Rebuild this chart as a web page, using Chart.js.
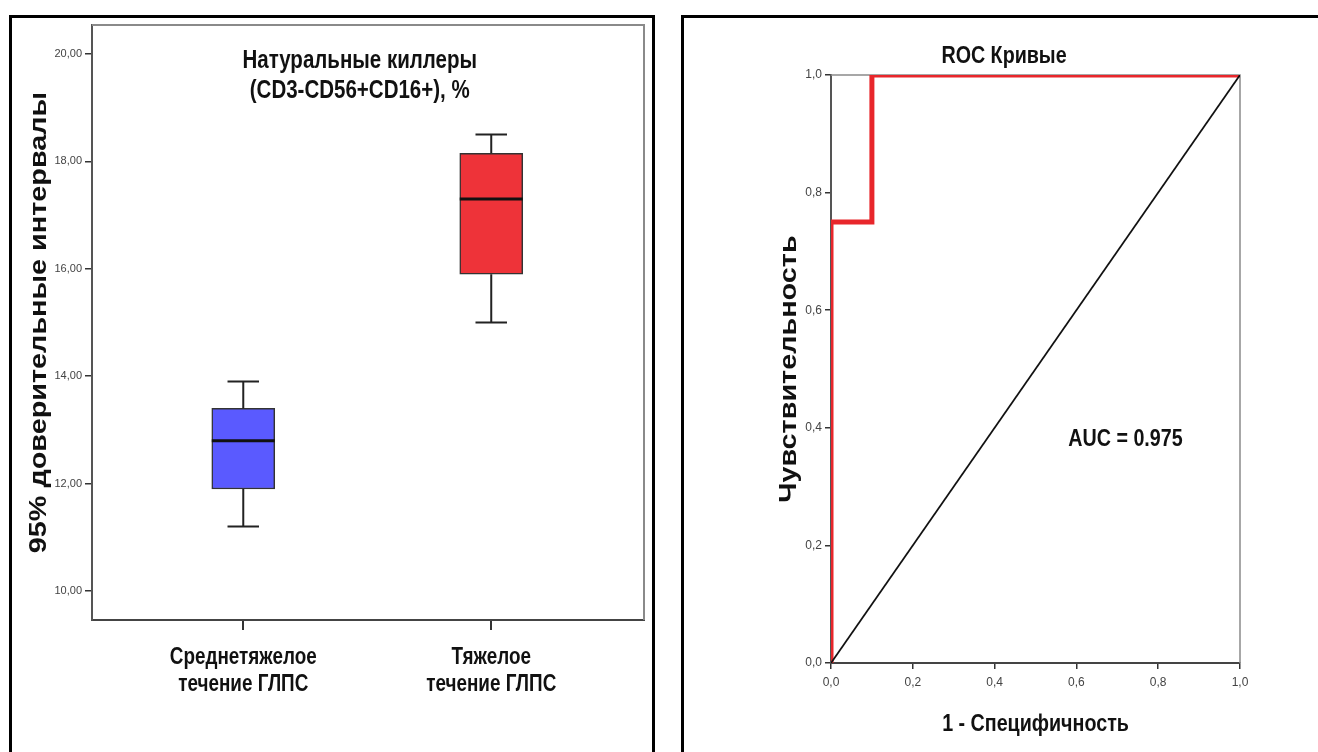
<!DOCTYPE html>
<html><head><meta charset="utf-8">
<script src="https://cdn.jsdelivr.net/npm/chart.js@4"></script>
<style>
html,body{margin:0;padding:0;background:#fff;width:1318px;height:752px;overflow:hidden;}
.frame{position:absolute;border:3px solid #000;box-sizing:border-box;}
#f1{left:9px;top:15px;width:646px;height:760px;}
#f2{left:681px;top:15px;width:660px;height:760px;}
.wrap{position:absolute;top:0;height:752px;}
#w1{left:0;width:660px;}
#w2{left:660px;width:658px;}
</style></head>
<body>
<div class="frame" id="f1"></div>
<div class="frame" id="f2"></div>
<div class="wrap" id="w1"><canvas id="c1"></canvas></div>
<div class="wrap" id="w2"><canvas id="c2"></canvas></div>
<script>
// ---- Box plot data ----
const groups = [1, 2];
const groupLabels = [["Среднетяжелое", "течение ГЛПС"], ["Тяжелое", "течение ГЛПС"]];
const whiskerLow = [11.2, 15.0];
const q1 = [11.9, 15.9];
const median = [12.8, 17.3];
const q3 = [13.4, 18.15];
const whiskerHigh = [13.9, 18.5];
const boxColors = ['#5a5aff', '#ee3339'];
const boxTicks = [10, 12, 14, 16, 18, 20];
const boxTitle = ["Натуральные киллеры", "(CD3-CD56+CD16+), %"];
const boxYTitle = "95% доверительные интервалы";

// ---- ROC data ----
const rocFpr = [0, 0, 0.1, 0.1, 1];
const rocTpr = [0, 0.75, 0.75, 1, 1];
const refFpr = [0, 1];
const refTpr = [0, 1];
const rocTicks = [0, 0.2, 0.4, 0.6, 0.8, 1];
const rocTitle = "ROC Кривые";
const rocXTitle = "1 - Специфичность";
const rocYTitle = "Чувствительность";
const aucText = "AUC = 0.975";
const aucAt = [0.72, 0.38];

const SANS = "'Liberation Sans', Arial, sans-serif";
Chart.defaults.font.family = SANS;
const SQUEEZE = 0.82;   // horizontal text squeeze (stretched-look of the source)
const STRETCH = 1.2;    // lengthening of rotated text

function label(ctx, text, x, y, size, rotated) {
  ctx.save();
  ctx.translate(x, y);
  if (rotated) { ctx.rotate(-Math.PI / 2); ctx.scale(STRETCH, 1); }
  else { ctx.scale(SQUEEZE, 1); }
  ctx.font = "bold " + size + "px " + SANS;
  ctx.fillStyle = '#111';
  ctx.textAlign = 'center';
  ctx.textBaseline = 'middle';
  ctx.fillText(text, 0, 0);
  ctx.restore();
}

const BAR_W = 63;

const boxPlugin = {
  id: 'boxExtras',
  beforeDatasetsDraw(chart) {
    const {ctx, chartArea: a} = chart;
    ctx.save();
    ctx.strokeStyle = '#8a8a8a';
    ctx.lineWidth = 2;
    ctx.beginPath();
    ctx.moveTo(a.left, a.top); ctx.lineTo(a.right, a.top); ctx.lineTo(a.right, a.bottom);
    ctx.stroke();
    ctx.restore();
  },
  afterDatasetsDraw(chart) {
    const {ctx, scales: {x, y}} = chart;
    ctx.save();
    ctx.strokeStyle = '#222';
    ctx.lineWidth = 2;
    const cap = BAR_W / 4;
    groups.forEach((g, i) => {
      const cx = x.getPixelForValue(g);
      const yl = y.getPixelForValue(whiskerLow[i]);
      const yh = y.getPixelForValue(whiskerHigh[i]);
      const y1 = y.getPixelForValue(q1[i]);
      const y3 = y.getPixelForValue(q3[i]);
      ctx.beginPath();
      ctx.moveTo(cx, y3); ctx.lineTo(cx, yh);
      ctx.moveTo(cx - cap, yh); ctx.lineTo(cx + cap, yh);
      ctx.moveTo(cx, y1); ctx.lineTo(cx, yl);
      ctx.moveTo(cx - cap, yl); ctx.lineTo(cx + cap, yl);
      ctx.stroke();
      const ym = y.getPixelForValue(median[i]);
      ctx.save();
      ctx.lineWidth = 3;
      ctx.strokeStyle = '#111';
      ctx.beginPath();
      ctx.moveTo(cx - BAR_W / 2, ym); ctx.lineTo(cx + BAR_W / 2, ym);
      ctx.stroke();
      ctx.restore();
    });
    ctx.restore();
  },
  afterDraw(chart) {
    const {ctx, chartArea: a, scales: {x}} = chart;
    const cx = a.left + a.width * 0.485;
    boxTitle.forEach((t, i) => label(ctx, t, cx, a.top + 36 + i * 30, 25, false));
    groups.forEach((g, i) => {
      groupLabels[i].forEach((t, j) => label(ctx, t, x.getPixelForValue(g), x.top + 38 + j * 27, 23, false));
    });
    label(ctx, boxYTitle, 39, (a.top + a.bottom) / 2, 24, true);
  }
};

new Chart(document.getElementById('c1'), {
  type: 'bar',
  data: {
    datasets: [{
      data: groups.map((g, i) => ({x: g, y: [q1[i], q3[i]]})),
      backgroundColor: boxColors,
      borderColor: '#333',
      borderWidth: 1.5,
      borderSkipped: false,
      barThickness: BAR_W
    }]
  },
  options: {
    animation: false,
    responsive: true,
    maintainAspectRatio: false,
    layout: {padding: {left: 0, right: 16, top: 25, bottom: 0}},
    plugins: {legend: {display: false}, tooltip: {enabled: false}},
    scales: {
      x: {
        type: 'linear', min: 0.39, max: 2.616, offset: false,
        afterBuildTicks: s => { s.ticks = groups.map(v => ({value: v})); },
        afterFit: s => { s.height = 132; },
        ticks: {display: false},
        grid: {offset: false, drawOnChartArea: false, drawTicks: true, tickLength: 10, color: '#333', lineWidth: 2},
        border: {display: true, color: '#444', width: 2}
      },
      y: {
        type: 'linear', min: 9.46, max: 20.54,
        afterBuildTicks: s => { s.ticks = boxTicks.map(v => ({value: v})); },
        afterFit: s => { s.width = 92; },
        ticks: {
          callback: v => v.toFixed(2).replace('.', ','),
          font: {size: 11, family: SANS}, color: '#444', padding: 3
        },
        grid: {drawOnChartArea: false, drawTicks: true, tickLength: 7, color: '#333', lineWidth: 1.5},
        border: {display: true, color: '#555', width: 2}
      }
    }
  },
  plugins: [boxPlugin]
});

const rocPlugin = {
  id: 'rocExtras',
  beforeDatasetsDraw(chart) {
    const {ctx, chartArea: a} = chart;
    ctx.save();
    ctx.strokeStyle = '#8a8a8a';
    ctx.lineWidth = 1.5;
    ctx.beginPath();
    ctx.moveTo(a.left, a.top); ctx.lineTo(a.right, a.top); ctx.lineTo(a.right, a.bottom);
    ctx.stroke();
    ctx.restore();
  },
  afterDraw(chart) {
    const {ctx, chartArea: a, scales: {x, y}} = chart;
    label(ctx, rocTitle, a.left + a.width * 0.423, a.top - 19, 24, false);
    label(ctx, rocXTitle, (a.left + a.right) / 2, a.bottom + 61, 24, false);
    label(ctx, rocYTitle, a.left - 42, (a.top + a.bottom) / 2, 24, true);
    label(ctx, aucText, x.getPixelForValue(aucAt[0]), y.getPixelForValue(aucAt[1]), 24, false);
  }
};

new Chart(document.getElementById('c2'), {
  type: 'scatter',
  data: {
    datasets: [
      {
        data: rocFpr.map((v, i) => ({x: v, y: rocTpr[i]})),
        showLine: true, borderColor: '#e8262b', borderWidth: 5,
        pointRadius: 0, fill: false, tension: 0, order: 2
      },
      {
        data: refFpr.map((v, i) => ({x: v, y: refTpr[i]})),
        showLine: true, borderColor: '#111', borderWidth: 1.8,
        pointRadius: 0, fill: false, tension: 0, order: 1
      }
    ]
  },
  options: {
    animation: false,
    responsive: true,
    maintainAspectRatio: false,
    layout: {padding: {left: 0, right: 78, top: 75, bottom: 0}},
    plugins: {legend: {display: false}, tooltip: {enabled: false}},
    scales: {
      x: {
        type: 'linear', min: 0, max: 1,
        afterBuildTicks: s => { s.ticks = rocTicks.map(v => ({value: v})); },
        afterFit: s => { s.height = 89; },
        ticks: {
          callback: v => v.toFixed(1).replace('.', ','),
          font: {size: 12, family: SANS}, color: '#444', padding: 6, maxRotation: 0, autoSkip: false
        },
        grid: {drawOnChartArea: false, drawTicks: true, tickLength: 6, color: '#333', lineWidth: 1.5},
        border: {display: true, color: '#444', width: 2}
      },
      y: {
        type: 'linear', min: 0, max: 1,
        afterBuildTicks: s => { s.ticks = rocTicks.map(v => ({value: v})); },
        afterFit: s => { s.width = 171; },
        ticks: {
          callback: v => v.toFixed(1).replace('.', ','),
          font: {size: 12, family: SANS}, color: '#444', padding: 3
        },
        grid: {drawOnChartArea: false, drawTicks: true, tickLength: 6, color: '#333', lineWidth: 1.5},
        border: {display: true, color: '#555', width: 2}
      }
    }
  },
  plugins: [rocPlugin]
});
</script>
</body></html>
